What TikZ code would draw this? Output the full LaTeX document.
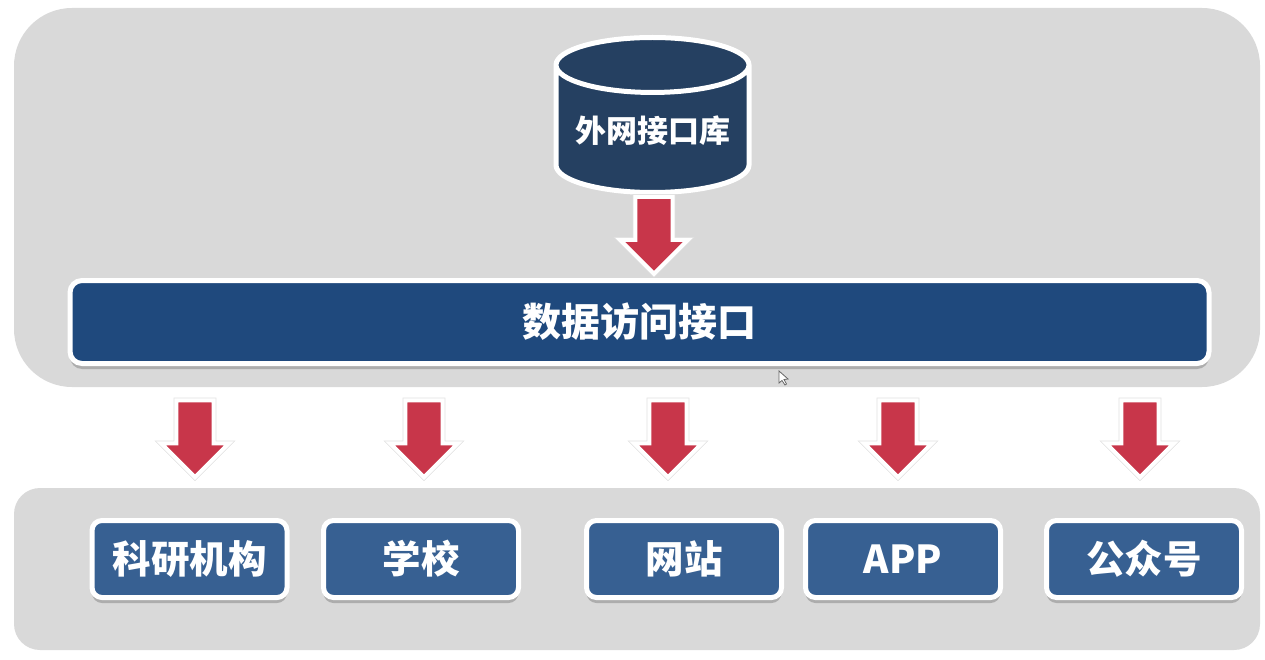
\documentclass[tikz,border=0pt]{standalone}
\usepackage{fontspec}
\newfontfamily\cjk{Noto Sans CJK SC}
\usetikzlibrary{shapes.geometric,shapes.arrows,shadows}
\definecolor{panelgray}{HTML}{D9D9D9}
\definecolor{barblue}{HTML}{1F497D}
\definecolor{boxblue}{HTML}{376092}
\definecolor{dbblue}{HTML}{254061}
\definecolor{arrowred}{HTML}{C8364A}
\tikzset{
  panel/.style={fill=panelgray, minimum width=1246, outer sep=0},
  softshadow/.style={drop shadow={shadow xshift=0pt, shadow yshift=-5.5pt, opacity=.2, fill=black}},
  clientbox/.style={draw=white, line width=5pt, fill=boxblue, rounded corners=10pt, softshadow,
    minimum width=195, minimum height=77, outer sep=0, text=white,
    font=\cjk\bfseries\fontsize{38.5}{40}\selectfont},
  blockarrow/.style={single arrow, shape border rotate=270, draw=white, line width=4pt, fill=arrowred,
    preaction={draw=black!12, line width=5.5pt}, minimum height=77, minimum width=68,
    single arrow head extend=15, single arrow tip angle=90, inner xsep=16, inner ysep=16, outer sep=0},
}
\begin{document}
\begin{tikzpicture}[x=1pt, y=-1pt]
  \useasboundingbox (0,0) rectangle (1265,660);
  \node[panel, minimum height=379, rounded corners=58pt] (serverpanel) at (637,197.5) {};
  \node[panel, minimum height=162, rounded corners=26pt] (clientpanel) at (637,569) {};
  \node[cylinder, shape border rotate=90, aspect=.34, draw=white, line width=5pt, fill=dbblue,
    cylinder uses custom fill, cylinder body fill=dbblue, cylinder end fill=dbblue,
    minimum width=193, minimum height=155, outer sep=0, anchor=shape center, text=white,
    font=\cjk\bfseries\fontsize{31}{34}\selectfont] (extdb) at (652.5,115) {\raisebox{9pt}{外网接口库}};
  \node[draw=white, line width=5pt, fill=barblue, rounded corners=12pt, softshadow,
    minimum width=1139, minimum height=83, outer sep=0, text=white,
    font=\cjk\bfseries\fontsize{39}{41}\selectfont] (accessbar) at (639.5,322) {\raisebox{-1pt}{数据访问接口}};
  \node[blockarrow] (dbarrow) at (654,226) {};
  \foreach \n/\x/\ax/\t in {lab/189.5/195/科研机构, school/421/424/学校, site/684/668/网站,
      app/903/898/APP, wechat/1144/1140/公众号} {
    \node[blockarrow] (\n arrow) at (\ax,429.5) {};
    \node[clientbox] (\n) at (\x,559) {\raisebox{-1.5pt}{\t}};
  }
  \draw[fill=white, draw=black!60, line width=.8pt] (779,371) -- (779,383) -- (782,380.5)
    -- (785,385) -- (786.5,384) -- (784,379.5) -- (788,379) -- cycle;
\end{tikzpicture}
\end{document}
